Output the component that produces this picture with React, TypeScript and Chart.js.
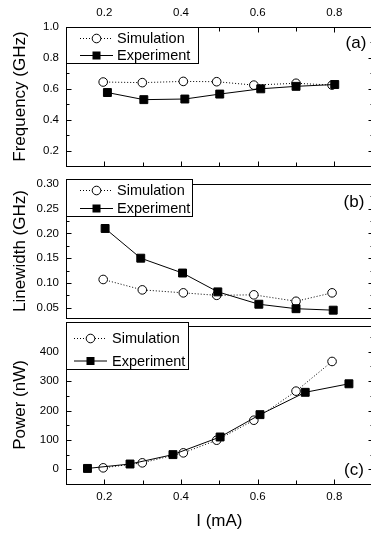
import React, { useEffect, useRef } from "react";
import { Chart, registerables } from "chart.js";

Chart.register(...registerables);

// ---------- data ----------
const simCurrent = [0.197, 0.299, 0.406, 0.493, 0.59, 0.7, 0.794];

const expCurrentFreq = [0.208, 0.303, 0.41, 0.501, 0.608, 0.7, 0.801];
const simFrequency = [0.644, 0.64, 0.648, 0.646, 0.624, 0.636, 0.624];
const expFrequency = [0.576, 0.53, 0.534, 0.566, 0.6, 0.616, 0.628];

const expCurrentWidth = [0.202, 0.295, 0.404, 0.496, 0.603, 0.7, 0.797];
const simLinewidth = [0.107, 0.086, 0.08, 0.075, 0.076, 0.063, 0.08];
const expLinewidth = [0.21, 0.15, 0.12, 0.082, 0.057, 0.048, 0.045];

const expCurrentPower = [0.156, 0.267, 0.379, 0.502, 0.606, 0.724, 0.838];
const simPower = [5, 22, 56, 99, 167, 266, 367];
const expPower = [3, 18, 50, 110, 186, 262, 291];

const xTickValues = [0.2, 0.4, 0.6, 0.8];
const xTickLabels = ["0.2", "0.4", "0.6", "0.8"];
const xMinorValues = [0.3, 0.5, 0.7];

const freqTickValues = [0.2, 0.4, 0.6, 0.8, 1.0];
const freqTickLabels = ["0.2", "0.4", "0.6", "0.8", "1.0"];
const freqMinorValues = [0.3, 0.5, 0.7, 0.9];

const widthTickValues = [0.05, 0.1, 0.15, 0.2, 0.25, 0.3];
const widthTickLabels = ["0.05", "0.10", "0.15", "0.20", "0.25", "0.30"];
const widthMinorValues = [0.075, 0.125, 0.175, 0.225, 0.275];

const powerTickValues = [0, 100, 200, 300, 400];
const powerTickLabels = ["0", "100", "200", "300", "400"];
const powerMinorValues = [50, 150, 250, 350, 450];

const seriesNames = ["Simulation", "Experiment"];
const panelLabels = ["(a)", "(b)", "(c)"];
const axisTitles = ["Frequency (GHz)", "Linewidth (GHz)", "Power (nW)", "I (mA)"];

// ---------- styling ----------
const FONT = "'Liberation Sans', Arial, Helvetica, sans-serif";
const TICK_FONT = { family: FONT, size: 11.5 };
const TITLE_FONT = { family: FONT, size: 17 };
const CANVAS_W = 380;

const framePlugin = {
  id: "frame",
  afterDatasetsDraw(chart: any, _args: any, opts: any) {
    const ctx = chart.ctx as CanvasRenderingContext2D;
    const { left, right, top, bottom } = chart.chartArea;
    const xs = chart.scales.x;
    const ys = chart.scales.y;
    const off = opts.offsetTop;
    const L = Math.round(left) + 0.5;
    const R = Math.round(right) + 0.5;
    const T = Math.round(top) + 0.5;
    const B = Math.round(bottom) + 0.5;
    ctx.save();
    ctx.strokeStyle = "#000";
    ctx.lineWidth = 1;
    ctx.setLineDash([]);
    ctx.strokeRect(L, T, R - L, B - T);

    const line = (x1: number, y1: number, x2: number, y2: number) => {
      ctx.beginPath();
      ctx.moveTo(x1, y1);
      ctx.lineTo(x2, y2);
      ctx.stroke();
    };
    // y ticks (left and right, inward)
    const yt = (vals: number[], len: number) => {
      vals.forEach((v) => {
        const p = Math.round(ys.getPixelForValue(v)) + 0.5;
        if (p < T - 0.1 || p > B + 0.1) return;
        line(L, p, L + len, p);
        line(R, p, R - len, p);
      });
    };
    yt(opts.yMajor, 5);
    yt(opts.yMinor, 3);
    const xt = (vals: number[], len: number) => {
      vals.forEach((v) => {
        const p = Math.round(xs.getPixelForValue(v)) + 0.5;
        if (opts.xTop) line(p, T, p, T + len);
        if (opts.xBottom) line(p, B, p, B - len);
      });
    };
    xt(opts.xMajor, 5);
    xt(opts.xMinor, 4);

    // legend
    const lg = opts.legend;
    ctx.fillStyle = "#fff";
    ctx.fillRect(lg.x0, lg.y0 - off, lg.x1 - lg.x0, lg.y1 - lg.y0);
    ctx.strokeRect(lg.x0, lg.y0 - off, lg.x1 - lg.x0, lg.y1 - lg.y0);
    ctx.font = `14.5px ${FONT}`;
    ctx.textBaseline = "middle";
    ctx.textAlign = "left";
    // simulation row
    let y = lg.rows[0] - off;
    ctx.setLineDash([1, 2]);
    line(lg.lineX[0], y, lg.lineX[1], y);
    ctx.setLineDash([]);
    ctx.beginPath();
    ctx.arc(lg.markerX, y, 4.3, 0, Math.PI * 2);
    ctx.fillStyle = "#fff";
    ctx.fill();
    ctx.stroke();
    ctx.fillStyle = "#000";
    ctx.fillText(seriesNames[0], lg.textX, y + 0.5);
    // experiment row
    y = lg.rows[1] - off;
    line(lg.lineX[0], y, lg.lineX[1], y);
    ctx.fillRect(lg.markerX - 4, y - 4, 8, 8);
    ctx.fillText(seriesNames[1], lg.textX, y + 0.5);

    // panel label
    ctx.font = `17px ${FONT}`;
    ctx.textAlign = "center";
    ctx.fillText(opts.label, opts.labelX, opts.labelY - off);
    ctx.restore();
  },
};

function makeDatasets(simX: number[], simY: number[], expX: number[], expY: number[]) {
  return [
    {
      label: seriesNames[1],
      data: expX.map((x, i) => ({ x, y: expY[i] })),
      borderColor: "#000",
      borderWidth: 1,
      pointStyle: "rect",
      pointRadius: 5.6,
      pointBackgroundColor: "#000",
      pointBorderColor: "#000",
      pointBorderWidth: 1,
      tension: 0,
      order: 0,
    },
    {
      label: seriesNames[0],
      data: simX.map((x, i) => ({ x, y: simY[i] })),
      borderColor: "#000",
      borderWidth: 1,
      borderDash: [1, 2],
      pointStyle: "circle",
      pointRadius: 4.3,
      pointBackgroundColor: "#fff",
      pointBorderColor: "#000",
      pointBorderWidth: 1,
      tension: 0,
      order: 1,
    },
  ];
}

function makeY(min: number, max: number, vals: number[], labels: string[], title: string, align: string) {
  return {
    type: "linear",
    min,
    max,
    afterFit: (s: any) => {
      s.width = 66;
    },
    afterBuildTicks: (s: any) => {
      s.ticks = vals.map((v) => ({ value: v }));
    },
    ticks: {
      callback: (v: any) => {
        const i = vals.findIndex((t) => Math.abs(t - v) < 1e-9);
        return i >= 0 ? labels[i] : "";
      },
      font: TICK_FONT,
      color: "#000",
      padding: 7,
    },
    grid: { display: false, drawTicks: false },
    border: { display: false },
    title: {
      display: true,
      text: title,
      font: TITLE_FONT,
      color: "#000",
      align,
      padding: { top: 10, bottom: 0 },
    },
  };
}

function makeX(mode: "top" | "none" | "bottom") {
  const base: any = {
    type: "linear",
    min: 0.1,
    max: 0.9,
    afterBuildTicks: (s: any) => {
      s.ticks = xTickValues.map((v) => ({ value: v }));
    },
    ticks: {
      callback: (v: any) => {
        const i = xTickValues.findIndex((t) => Math.abs(t - v) < 1e-9);
        return i >= 0 ? xTickLabels[i] : "";
      },
      font: TICK_FONT,
      color: "#000",
      maxRotation: 0,
      padding: 7,
    },
    grid: { display: false, drawTicks: false },
    border: { display: false },
  };
  if (mode === "none") {
    base.display = false;
  } else if (mode === "top") {
    base.position = "top";
    base.afterFit = (s: any) => {
      s.height = 27;
    };
  } else {
    base.position = "bottom";
    base.ticks.padding = 6;
    base.afterFit = (s: any) => {
      s.height = 51;
    };
    base.title = {
      display: true,
      text: axisTitles[3],
      font: TITLE_FONT,
      color: "#000",
      padding: { top: 0, bottom: 3 },
    };
  }
  return base;
}

const panels = [
  {
    top: 0,
    height: 180,
    padding: { left: 0, right: CANVAS_W - 372.7, top: 0, bottom: 1 },
    datasets: () => makeDatasets(simCurrent, simFrequency, expCurrentFreq, expFrequency),
    x: () => makeX("top"),
    y: () => makeY(0.1, 1.0, freqTickValues, freqTickLabels, axisTitles[0], "center"),
    frame: {
      offsetTop: 0,
      yMajor: freqTickValues,
      yMinor: freqMinorValues,
      xMajor: xTickValues,
      xMinor: xMinorValues,
      xTop: true,
      xBottom: true,
      legend: { x0: 66.5, y0: 27.5, x1: 198.5, y1: 63.5, rows: [38.5, 55.5], lineX: [80, 113], markerX: 96.5, textX: 117 },
      label: panelLabels[0],
      labelX: 356,
      labelY: 43,
    },
  },
  {
    top: 170,
    height: 162,
    padding: { left: 0, right: CANVAS_W - 372.7, top: 9, bottom: 10 },
    datasets: () => makeDatasets(simCurrent, simLinewidth, expCurrentWidth, expLinewidth),
    x: () => makeX("none"),
    y: () => makeY(0.029, 0.3, widthTickValues, widthTickLabels, axisTitles[1], "center"),
    frame: {
      offsetTop: 170,
      yMajor: widthTickValues,
      yMinor: widthMinorValues,
      xMajor: xTickValues,
      xMinor: xMinorValues,
      xTop: false,
      xBottom: false,
      legend: { x0: 66.5, y0: 179.5, x1: 192.5, y1: 216.5, rows: [190.5, 208.5], lineX: [80, 113], markerX: 96.5, textX: 117 },
      label: panelLabels[1],
      labelX: 354,
      labelY: 202,
    },
  },
  {
    top: 312,
    height: 223,
    padding: { left: 0, right: CANVAS_W - 372.7, top: 10, bottom: 0 },
    datasets: () => makeDatasets(simCurrent, simPower, expCurrentPower, expPower),
    x: () => makeX("bottom"),
    y: () => makeY(-50, 488, powerTickValues, powerTickLabels, axisTitles[2], "center"),
    frame: {
      offsetTop: 312,
      yMajor: powerTickValues,
      yMinor: powerMinorValues,
      xMajor: xTickValues,
      xMinor: xMinorValues,
      xTop: false,
      xBottom: true,
      legend: { x0: 66.5, y0: 322.5, x1: 188.5, y1: 369.5, rows: [338.5, 361], lineX: [74, 107], markerX: 90.5, textX: 112 },
      label: panelLabels[2],
      labelX: 354,
      labelY: 470,
    },
  },
];

function Panel({ p }: { p: any }) {
  const ref = useRef<HTMLCanvasElement>(null);
  useEffect(() => {
    const chart = new Chart(ref.current as HTMLCanvasElement, {
      type: "line",
      data: { datasets: p.datasets() } as any,
      options: {
        animation: false,
        responsive: false,
        devicePixelRatio: 1,
        layout: { padding: p.padding },
        plugins: {
          legend: { display: false },
          tooltip: { enabled: false },
          frame: p.frame,
        } as any,
        scales: { x: p.x(), y: p.y() } as any,
      },
      plugins: [framePlugin as any],
    });
    return () => chart.destroy();
  }, []);
  return (
    <canvas
      ref={ref}
      width={CANVAS_W}
      height={p.height}
      style={{ position: "absolute", left: 0, top: p.top, width: CANVAS_W, height: p.height }}
    />
  );
}

export default function App() {
  return (
    <div
      style={{
        position: "fixed",
        left: 0,
        top: 0,
        width: 371,
        height: 535,
        overflow: "hidden",
        background: "#fff",
      }}
    >
      {panels.map((p, i) => (
        <Panel key={i} p={p} />
      ))}
    </div>
  );
}
